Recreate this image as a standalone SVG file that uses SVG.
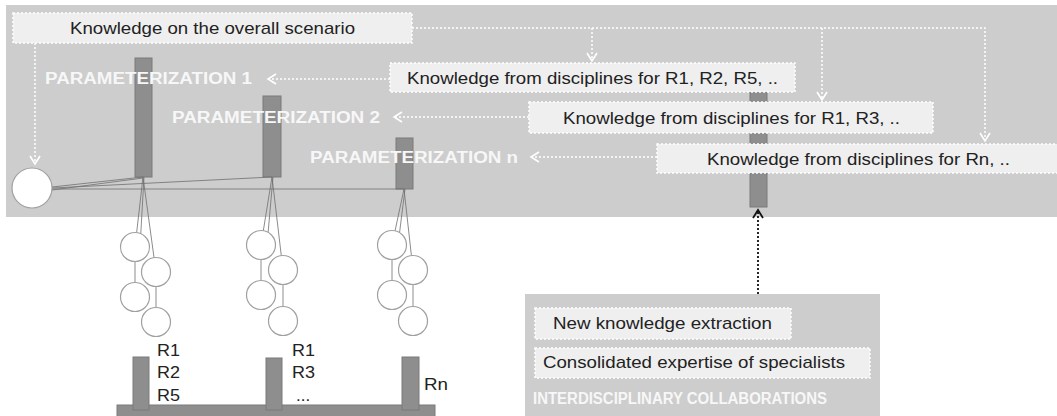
<svg xmlns="http://www.w3.org/2000/svg" width="1057" height="416" viewBox="0 0 1057 416">
  <defs>
    <style>
      .band { fill: #cdcdcd; }
      .kbox { fill: #efefef; stroke: #ffffff; stroke-width: 1.5; stroke-dasharray: 2 2; }
      .ktext { font-family: "Liberation Sans", Arial, sans-serif; font-size: 17px; fill: #222222; }
      .param { font-family: "Liberation Sans", Arial, sans-serif; font-size: 16px; font-weight: bold; fill: #f7f7f7; }
      .flow { fill: none; stroke: #ffffff; stroke-width: 1.5; stroke-dasharray: 2 2; }
      .bar { fill: #8e8e8e; stroke: #7a7a7a; stroke-width: 1; }
      .wire { fill: none; stroke: #6f6f6f; stroke-width: 0.8; }
      .node { fill: #ffffff; stroke: #a0a0a0; stroke-width: 1.2; }
      .rlab { font-family: "Liberation Sans", Arial, sans-serif; font-size: 17px; fill: #222222; }
    </style>
    <marker id="chev-w" viewBox="0 0 12 12" refX="10" refY="6" markerWidth="12" markerHeight="12" markerUnits="userSpaceOnUse" orient="auto">
      <path d="M2,1 L10,6 L2,11" fill="none" stroke="#ffffff" stroke-width="1.6"/>
    </marker>
    <marker id="chev-k" viewBox="0 0 12 12" refX="10" refY="6" markerWidth="12" markerHeight="12" markerUnits="userSpaceOnUse" orient="auto">
      <path d="M2,1 L10,6 L2,11" fill="none" stroke="#111111" stroke-width="1.8"/>
    </marker>
  </defs>

  <rect width="1057" height="416" fill="#ffffff"/>

  <!-- upper band: parameterization layer -->
  <rect id="band" class="band" x="6" y="5" width="1051" height="212"/>

  <!-- parameterization columns -->
  <g id="col-1">
    <rect class="bar" x="135" y="58" width="17" height="119"/>
  </g>
  <g id="col-2">
    <rect class="bar" x="263" y="96" width="18" height="81"/>
  </g>
  <g id="col-n">
    <rect class="bar" x="396" y="138" width="17" height="51"/>
  </g>
  <g id="col-knowledge">
    <rect class="bar" x="750" y="85" width="17" height="122"/>
  </g>

  <g id="connectors">
    <!-- scenario to parameterizations -->
    <line class="wire" x1="52" y1="187" x2="143" y2="177"/>
    <line class="wire" x1="52" y1="188" x2="272" y2="177"/>
    <line class="wire" x1="52" y1="189" x2="404" y2="189"/>
    <line class="wire" x1="52" y1="190" x2="143" y2="178"/>

    <!-- hanging chains, column 1 -->
    <polyline class="wire" points="143,177 135,247 135,297"/>
    <polyline class="wire" points="143,177 156,272 156,322"/>
    <line class="wire" x1="144" y1="177" x2="140" y2="247"/>
    <!-- column 2 -->
    <polyline class="wire" points="272,177 261,245 261,295"/>
    <polyline class="wire" points="272,177 283,270 283,321"/>
    <line class="wire" x1="273" y1="177" x2="267" y2="245"/>
    <!-- column n -->
    <polyline class="wire" points="404,189 392,245 392,295"/>
    <polyline class="wire" points="404,189 413,270 413,321"/>
    <line class="wire" x1="405" y1="189" x2="398" y2="245"/>

    <!-- knowledge flows -->
    <polyline class="flow" points="412,28 985,28 985,141" marker-end="url(#chev-w)"/>
    <line class="flow" x1="592" y1="28" x2="592" y2="61" marker-end="url(#chev-w)"/>
    <line class="flow" x1="822" y1="28" x2="822" y2="100" marker-end="url(#chev-w)"/>
    <line class="flow" x1="35" y1="43" x2="35" y2="164" marker-end="url(#chev-w)"/>
    <line class="flow" x1="390" y1="79" x2="268" y2="79" marker-end="url(#chev-w)"/>
    <line class="flow" x1="529" y1="117" x2="394" y2="117" marker-end="url(#chev-w)"/>
    <line class="flow" x1="657" y1="157" x2="531" y2="157" marker-end="url(#chev-w)"/>

    <!-- collaborations feed back -->
    <line x1="758" y1="294" x2="758" y2="210" stroke="#111111" stroke-width="1.8" stroke-dasharray="2 2" marker-end="url(#chev-k)"/>
  </g>

  <g id="scenario">
    <circle class="node" cx="32" cy="188" r="20"/>
  </g>

  <g id="box-overall">
    <rect class="kbox" x="13" y="13" width="399" height="30"/>
    <text class="ktext" x="70" y="34" textLength="285" lengthAdjust="spacingAndGlyphs">Knowledge on the overall scenario</text>
  </g>

  <g id="box-r125">
    <rect class="kbox" x="390" y="63" width="405" height="29"/>
    <text class="ktext" x="407" y="84" textLength="371" lengthAdjust="spacingAndGlyphs">Knowledge from disciplines for R1, R2, R5, ..</text>
  </g>
  <g id="box-r13">
    <rect class="kbox" x="529" y="102" width="404" height="31"/>
    <text class="ktext" x="563" y="124" textLength="337" lengthAdjust="spacingAndGlyphs">Knowledge from disciplines for R1, R3, ..</text>
  </g>
  <g id="box-rn">
    <rect class="kbox" x="657" y="144" width="402" height="29"/>
    <text class="ktext" x="707" y="165" textLength="303" lengthAdjust="spacingAndGlyphs">Knowledge from disciplines for Rn, ..</text>
  </g>

  <g id="labels-param">
    <text class="param" x="45" y="84" textLength="207" lengthAdjust="spacingAndGlyphs">PARAMETERIZATION 1</text>
    <text class="param" x="172" y="123" textLength="208" lengthAdjust="spacingAndGlyphs">PARAMETERIZATION 2</text>
    <text class="param" x="310" y="163" textLength="208" lengthAdjust="spacingAndGlyphs">PARAMETERIZATION n</text>
  </g>

  <!-- hanging elements -->
  <g id="chain-1">
    <circle class="node" cx="135" cy="247" r="14.5"/>
    <circle class="node" cx="156" cy="272" r="14.5"/>
    <circle class="node" cx="135" cy="297" r="14.5"/>
    <circle class="node" cx="156" cy="322" r="14.5"/>
  </g>
  <g id="chain-2">
    <circle class="node" cx="261" cy="245" r="14.5"/>
    <circle class="node" cx="283" cy="270" r="14.5"/>
    <circle class="node" cx="261" cy="295" r="14.5"/>
    <circle class="node" cx="283" cy="321" r="14.5"/>
  </g>
  <g id="chain-n">
    <circle class="node" cx="392" cy="245" r="14.5"/>
    <circle class="node" cx="413" cy="270" r="14.5"/>
    <circle class="node" cx="392" cy="295" r="14.5"/>
    <circle class="node" cx="413" cy="321" r="14.5"/>
  </g>

  <!-- base platform with posts -->
  <g id="platform">
    <rect class="bar" x="117" y="405" width="318" height="14"/>
    <rect class="bar" x="133" y="357" width="16" height="53"/>
    <rect class="bar" x="266" y="358" width="16" height="52"/>
    <rect class="bar" x="402" y="357" width="17" height="53"/>
  </g>
  <g id="labels-r">
    <text class="rlab" x="157" y="356" textLength="23" lengthAdjust="spacingAndGlyphs">R1</text>
    <text class="rlab" x="157" y="378" textLength="23" lengthAdjust="spacingAndGlyphs">R2</text>
    <text class="rlab" x="157" y="401" textLength="23" lengthAdjust="spacingAndGlyphs">R5</text>
    <text class="rlab" x="292" y="356" textLength="23" lengthAdjust="spacingAndGlyphs">R1</text>
    <text class="rlab" x="292" y="378" textLength="23" lengthAdjust="spacingAndGlyphs">R3</text>
    <text class="rlab" x="296" y="401" font-size="12">...</text>
    <text class="rlab" x="424" y="390" textLength="24" lengthAdjust="spacingAndGlyphs">Rn</text>
  </g>

  <!-- interdisciplinary collaborations panel -->
  <g id="collaborations">
    <rect class="band" x="525" y="294" width="355" height="125"/>
    <rect class="kbox" x="535" y="308" width="256" height="31"/>
    <text class="ktext" x="553" y="329" textLength="219" lengthAdjust="spacingAndGlyphs">New knowledge extraction</text>
    <rect class="kbox" x="535" y="348" width="335" height="30"/>
    <text class="ktext" x="543" y="368" textLength="302" lengthAdjust="spacingAndGlyphs">Consolidated expertise of specialists</text>
    <text class="param" x="533" y="404" font-size="12" fill="#ececec" textLength="294" lengthAdjust="spacingAndGlyphs">INTERDISCIPLINARY COLLABORATIONS</text>
  </g>
</svg>
